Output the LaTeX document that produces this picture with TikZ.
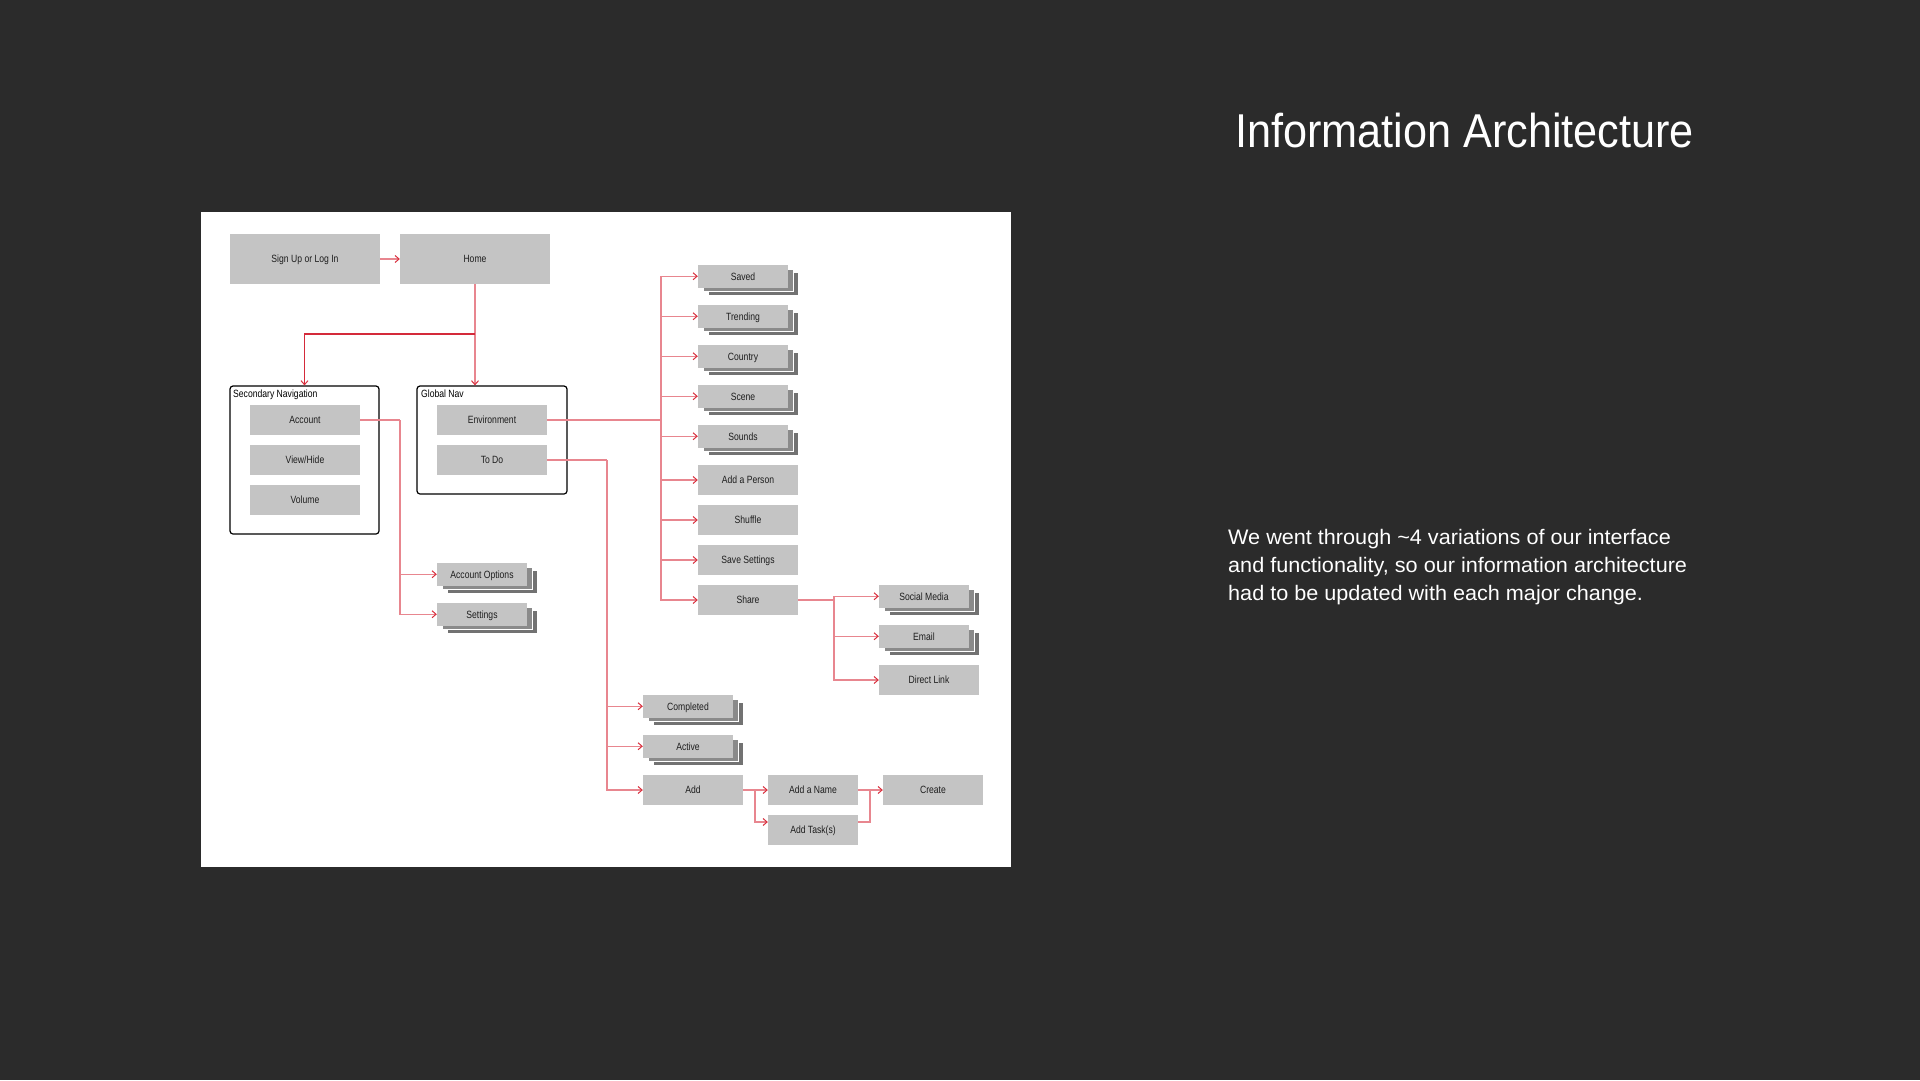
\documentclass[tikz,border=0pt]{standalone}
\usepackage{fontspec}
\usetikzlibrary{arrows.meta,shadows,calc}
\newfontfamily\boxfont[FakeStretch=0.82]{Liberation Sans}
\newfontfamily\titlefont[FakeStretch=0.91]{Liberation Sans}
\newfontfamily\parafont[FakeStretch=1.03]{Liberation Sans}
\definecolor{bg}{HTML}{2B2B2B}
\definecolor{boxgray}{HTML}{C4C4C4}
\definecolor{boxtext}{HTML}{1E1E1E}
\definecolor{layertwo}{HTML}{8A8A8A}
\definecolor{layerthree}{HTML}{727272}
\definecolor{linepink}{HTML}{E8868F}
\definecolor{tipred}{HTML}{D9303E}
\definecolor{darkred}{HTML}{D42A3A}
\begin{document}
\begin{tikzpicture}[x=1pt,y=-1pt,
  plainbox/.style={fill=boxgray, text=boxtext, font=\boxfont\fontsize{10.5}{12}\selectfont,
    inner sep=0pt, text height=7.5pt, text depth=0pt, minimum width=100pt, minimum height=30pt},
  bigbox/.style={plainbox, minimum width=150pt, minimum height=50pt},
  stackbox/.style={plainbox, minimum width=90pt, minimum height=22.5pt,
    copy shadow={shadow xshift=10pt, shadow yshift=-7.5pt, fill=layerthree, draw=white, line width=0.5pt},
    copy shadow={shadow xshift=5pt, shadow yshift=-3.75pt, fill=layertwo, draw=white, line width=0.5pt}},
  navbox/.style={draw=black, line width=1.2pt, rounded corners=3pt, inner sep=0pt},
  navlabel/.style={anchor=base west, inner sep=0pt, text=black, font=\boxfont\fontsize{10.5}{12}\selectfont},
  conn/.style={draw=linepink, line width=1.3pt},
  arr/.style={conn, -{Straight Barb[length=4pt,width=7pt,line width=1pt,color=tipred]}}
]
\path[fill=bg] (0,0) rectangle (1920,1080);
\fill[white] (201,212) rectangle (1011,867);

% top row
\node[bigbox] (signup) at (305,259) {Sign Up or Log In};
\node[bigbox] (home) at (475,259) {Home};

% navigation groups
\node[navbox, minimum width=149pt, minimum height=148pt] (snav) at (304.5,460) {};
\node[navlabel] (snavlabel) at (233,397) {Secondary Navigation};
\node[navbox, minimum width=150pt, minimum height=108pt] (gnav) at (492,440) {};
\node[navlabel] (gnavlabel) at (421,397) {Global Nav};

\node[plainbox, minimum width=110pt] (account) at (305,420) {Account};
\node[plainbox, minimum width=110pt] (viewhide) at (305,460) {View/Hide};
\node[plainbox, minimum width=110pt] (volume) at (305,500) {Volume};
\node[plainbox, minimum width=110pt] (env) at (492,420) {Environment};
\node[plainbox, minimum width=110pt] (todo) at (492,460) {To Do};

% account children
\node[stackbox] (accopt) at (482,574.25) {Account Options};
\node[stackbox] (settings) at (482,614.25) {Settings};

% environment children
\node[stackbox] (saved) at (743,276.25) {Saved};
\node[stackbox] (trending) at (743,316.25) {Trending};
\node[stackbox] (country) at (743,356.25) {Country};
\node[stackbox] (scene) at (743,396.25) {Scene};
\node[stackbox] (sounds) at (743,436.25) {Sounds};
\node[plainbox] (addperson) at (748,480) {Add a Person};
\node[plainbox] (shuffle) at (748,520) {Shuffle};
\node[plainbox] (savesettings) at (748,560) {Save Settings};
\node[plainbox] (share) at (748,600) {Share};

% share children
\node[stackbox] (social) at (924,596.25) {Social Media};
\node[stackbox] (email) at (924,636.25) {Email};
\node[plainbox] (directlink) at (929,680) {Direct Link};

% to do children
\node[stackbox] (completed) at (688,706.25) {Completed};
\node[stackbox] (active) at (688,746.25) {Active};
\node[plainbox] (add) at (693,790) {Add};
\node[plainbox, minimum width=90pt] (addname) at (813,790) {Add a Name};
\node[plainbox, minimum width=90pt] (addtask) at (813,830) {Add Task(s)};
\node[plainbox] (create) at (933,790) {Create};

% connectors
\draw[arr] (signup) -- (home);
\coordinate (hsplit) at (475,334);
\draw[arr] (home.south) -- (home.south |- gnav.north);
\draw[arr, draw=darkred] (hsplit) -| (snav.north);

\coordinate (accbus) at (400,420);
\draw[conn] (account.east) -- (accbus);
\foreach \c in {accopt,settings} \draw[arr] (accbus) |- (\c.west);

\coordinate (envbus) at (661,420);
\draw[conn] (env.east) -- (envbus);
\foreach \c in {saved,trending,country,scene,sounds,addperson,shuffle,savesettings,share}
  \draw[arr] (envbus) |- (\c.west);

\coordinate (sharebus) at (834,600);
\draw[conn] (share.east) -- (sharebus);
\foreach \c in {social,email,directlink} \draw[arr] (sharebus) |- (\c.west);

\coordinate (todobus) at (607,460);
\draw[conn] (todo.east) -- (todobus);
\foreach \c in {completed,active,add} \draw[arr] (todobus) |- (\c.west);

\coordinate (addsplit) at (755,790);
\draw[arr] (add.east) -- (addname.west);
\draw[arr] (addsplit) |- ([yshift=8pt]addtask.west);
\coordinate (createjoin) at (870,790);
\draw[conn] ([yshift=8pt]addtask.east) -| (createjoin);
\draw[arr] (addname.east) -- (create.west);

% texts
\node[anchor=base west, inner sep=0pt, text=white, font=\titlefont\fontsize{47.5}{57}\selectfont] (title) at (1235,147) {Information Architecture};
\node[anchor=base west, inner sep=0pt, text=white, align=left, font=\parafont\fontsize{21}{28}\selectfont] (para) at (1228,600)
  {We went through \textasciitilde4 variations of our interface\\and functionality, so our information architecture\\had to be updated with each major change.};
\end{tikzpicture}
\end{document}
